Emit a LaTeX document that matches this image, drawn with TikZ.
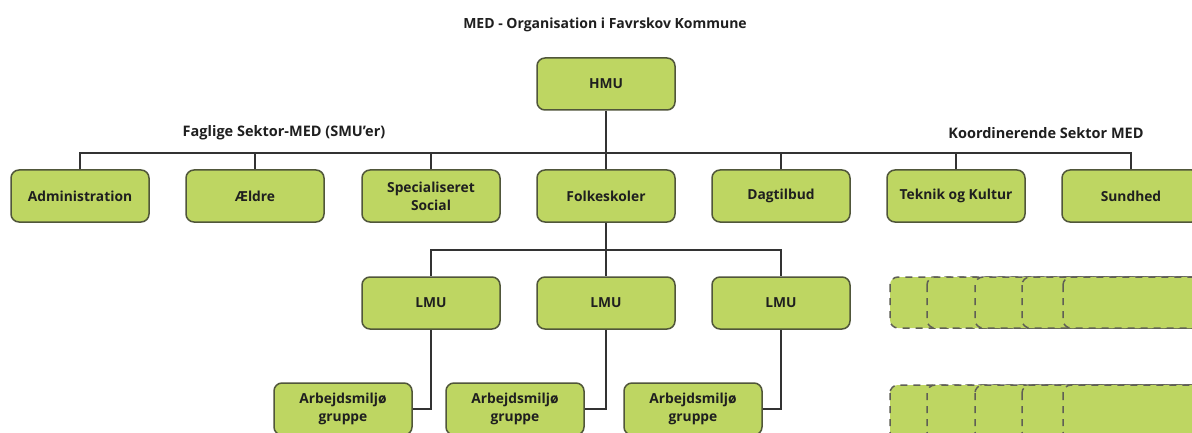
\documentclass[tikz,border=0pt]{standalone}
\usepackage{fontspec}
\setmainfont{Open Sans}
\begin{document}
\begin{tikzpicture}[x=1pt,y=-1pt,
  box/.style={draw=boxline,line width=1.5pt,fill=boxfill,rounded corners=8pt,
    minimum width=138pt,minimum height=52pt,align=center,
    font=\bfseries\fontsize{13.8}{18}\selectfont,text=black!88},
  dbox/.style={draw=dashline,line width=1.5pt,fill=boxfill,rounded corners=8pt,
    dash pattern=on 7pt off 6pt},
  conn/.style={draw=black!80,line width=1.5pt},
  lbl/.style={font=\bfseries\fontsize{14.5}{16}\selectfont,text=black!88}]
\definecolor{boxfill}{RGB}{190,214,98}
\definecolor{boxline}{RGB}{80,86,58}
\definecolor{dashline}{RGB}{95,95,85}
\clip (0,0) rectangle (1192,433);
\fill[white] (0,0) rectangle (1192,433);

\node[lbl,font=\bfseries\fontsize{14}{16}\selectfont] (title) at (605,25) {MED - Organisation i Favrskov Kommune};
\node[lbl] (faglige) at (284,133) {Faglige Sektor-MED (SMU’er)};
\node[lbl] (koord) at (1046,133) {Koordinerende Sektor MED};

\node[box] (hmu) at (606,84) {HMU};
\node[box] (adm) at (80,196) {Administration};
\node[box] (aeld) at (255,196) {Ældre};
\node[box] (spec) at (431,196) {Specialiseret\\Social};
\node[box] (folk) at (606,196) {Folkeskoler};
\node[box] (dag) at (781,196) {Dagtilbud};
\node[box] (tek) at (956,196) {Teknik og Kultur};
\node[box] (sund) at (1131,196) {Sundhed};

\node[box] (lmua) at (431,303) {LMU};
\node[box] (lmub) at (606,303) {LMU};
\node[box] (lmuc) at (781,303) {LMU};

\node[box] (arba) at (343,409) {Arbejdsmiljø\\gruppe};
\node[box] (arbb) at (515,409) {Arbejdsmiljø\\gruppe};
\node[box] (arbc) at (693,409) {Arbejdsmiljø\\gruppe};

\coordinate (hb) at (606,153);
\coordinate (fb) at (606,250);

\draw[conn] (hmu.south) -- (folk.north);
\draw[conn] (adm.north) |- (hb) -| (sund.north);
\draw[conn] (aeld.north) -- (aeld.north |- hb);
\draw[conn] (spec.north) -- (spec.north |- hb);
\draw[conn] (dag.north) -- (dag.north |- hb);
\draw[conn] (tek.north) -- (tek.north |- hb);

\draw[conn] (folk.south) -- (lmub.north);
\draw[conn] (lmua.north) |- (fb) -| (lmuc.north);

\draw[conn] (lmua.south) |- (arba.east);
\draw[conn] (lmub.south) |- (arbb.east);
\draw[conn] (lmuc.south) |- (arbc.east);

% dashed stacked boxes
\foreach \xx in {890,927,975,1022,1063}{
  \draw[dbox] (\xx,277) rectangle (1230,328);
}
\foreach \xx in {890,927,975,1022,1063}{
  \draw[dbox] (\xx,385) rectangle (1230,440);
}
\end{tikzpicture}
\end{document}
